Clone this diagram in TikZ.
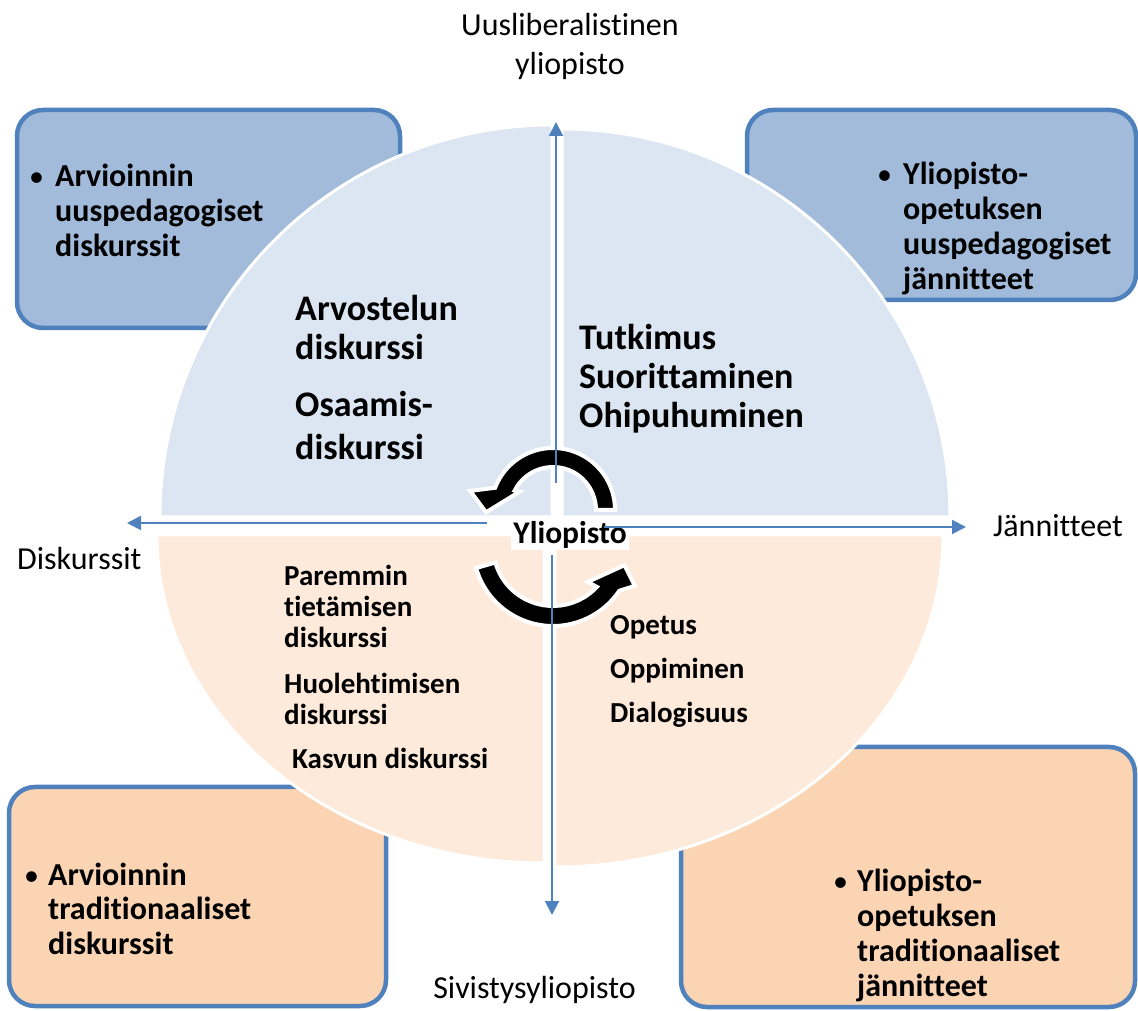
\documentclass[tikz,border=0pt]{standalone}
\usepackage{fontspec}
\setmainfont{Carlito}[Ligatures={NoCommon,NoContextual}]
\usetikzlibrary{arrows.meta}
\definecolor{topq}{HTML}{DCE6F2}
\definecolor{botq}{HTML}{FDEADA}
\definecolor{topbox}{HTML}{A2BBDA}
\definecolor{botbox}{HTML}{FBD4B4}
\definecolor{edgeblue}{HTML}{4F81BD}
\newcommand{\bul}[1]{\makebox[#1][l]{\mdseries\fontsize{30}{35}\selectfont •}}
\begin{document}
\begin{tikzpicture}[x=1pt,y=1pt,
  cbox/.style={draw=edgeblue, line width=4.5pt, rounded corners=26pt},
  quad/.style={draw=white, line width=3pt},
  carrow/.style={fill=black, draw=white, line width=4pt, line join=miter},
  axis/.style={draw=edgeblue, line width=2pt, -{Triangle[length=14pt,width=14pt]}},
  txt/.style={inner sep=0pt, anchor=base west},
  lblreg/.style={inner sep=0pt, font=\fontsize{32}{39}\selectfont},
  qbig/.style={txt, font=\bfseries\fontsize{36}{39}\selectfont},
  qbigb/.style={txt, font=\bfseries\fontsize{36}{43}\selectfont},
  qsmall/.style={txt, font=\bfseries\fontsize{29}{31}\selectfont},
  qsmallb/.style={txt, font=\bfseries\fontsize{29}{44}\selectfont},
  boxtxt/.style={txt, font=\bfseries\fontsize{32}{35}\selectfont}]
\useasboundingbox (0,0) rectangle (1138,1010);

% corner boxes
\path[cbox, fill=topbox] (17,682) rectangle (400,900);
\path[cbox, fill=topbox] (747,710) rectangle (1136,900);
\path[cbox, fill=botbox] (9,4) rectangle (386,223);
\path[cbox, fill=botbox] (681,3) rectangle (1135,263);

% quadrants
\path[quad, fill=topq] (552,493) -- (160,493) arc[start angle=180, end angle=90, radius=392] -- cycle;
\path[quad, fill=topq] (562,493) -- (562,881) arc[start angle=90, end angle=0, radius=388] -- cycle;
\path[quad, fill=botq] (544,475) -- (157,475) arc[start angle=180, end angle=270, x radius=387, y radius=328] -- cycle;
\path[quad, fill=botq] (555,475) -- (555,143) arc[start angle=270, end angle=360, x radius=388, y radius=332] -- cycle;

% circular arrows
\begin{scope}[shift={(553,500)}]
\path[carrow] (0:62) arc[start angle=0, end angle=159, radius=62] -- (167:85) -- (182:67) -- (151:38) -- (153:43) arc[start angle=153, end angle=0, radius=43] -- cycle;
\end{scope}
\begin{scope}[shift={(553,464)}]
\path[carrow] (196:80) arc[start angle=196, end angle=326, radius=80] -- (334:91) -- (345:74) -- (314:50) -- (317:60) arc[start angle=317, end angle=196, radius=60] -- cycle;
\end{scope}

% centre
\node[inner xsep=2pt, inner ysep=1pt, fill=white, font=\bfseries\fontsize{31.5}{36}\selectfont, anchor=base] (yl) at (570,466) {Yliopisto};

% axes
\coordinate (vtopS) at (556,527);
\coordinate (vtopE) at (556,888);
\coordinate (vbotS) at (552,455);
\coordinate (vbotE) at (552,95);
\coordinate (hlS) at (487,487);
\coordinate (hlE) at (127,487);
\coordinate (hrS) at (604,483);
\coordinate (hrE) at (966,483);
\draw[axis] (vtopS) -- (vtopE);
\draw[axis] (vbotS) -- (vbotE);
\draw[axis] (hlS) -- (hlE);
\draw[axis] (hrS) -- (hrE);

% axis labels
\node[lblreg, anchor=base] (ltop) at (570,974) {\begin{tabular}[t]{@{}c@{}}Uusliberalistinen\\yliopisto\end{tabular}};
\node[lblreg, anchor=base west] (lleft) at (17,440) {Diskurssit};
\node[lblreg, anchor=base west] (lright) at (993,473) {Jännitteet};
\node[lblreg, anchor=base] (lbot) at (534.5,12) {Sivistysyliopisto};

% quadrant texts
\node[qbig] (tla) at (295,689) {\begin{tabular}[t]{@{}l@{}}Arvostelun\\diskurssi\end{tabular}};
\node[qbigb] (tlb) at (295,593.3) {\begin{tabular}[t]{@{}l@{}}Osaamis-\\diskurssi\end{tabular}};
\node[qbig] (tra) at (579,660) {\begin{tabular}[t]{@{}l@{}}Tutkimus\\Suorittaminen\\Ohipuhuminen\end{tabular}};
\node[qsmall] (bla) at (284,424.3) {\begin{tabular}[t]{@{}l@{}}Paremmin\\tietämisen\\diskurssi\end{tabular}};
\node[qsmall] (blb) at (284,316) {\begin{tabular}[t]{@{}l@{}}Huolehtimisen\\diskurssi\end{tabular}};
\node[qsmall] (blc) at (292,241.7) {Kasvun diskurssi};
\node[qsmallb] (bra) at (610,375) {\begin{tabular}[t]{@{}l@{}}Opetus\\Oppiminen\\Dialogisuus\end{tabular}};

% box texts
\node[boxtxt] (btl) at (29,823) {\begin{tabular}[t]{@{}l@{}l@{}}\bul{26pt}&Arvioinnin\\&uuspedagogiset\\&diskurssit\end{tabular}};
\node[boxtxt] (btr) at (877,825) {\begin{tabular}[t]{@{}l@{}l@{}}\bul{26pt}&Yliopisto-\\&opetuksen\\&uuspedagogiset\\&jännitteet\end{tabular}};
\node[boxtxt] (bbl) at (24,125) {\begin{tabular}[t]{@{}l@{}l@{}}\bul{24pt}&Arvioinnin\\&traditionaaliset\\&diskurssit\end{tabular}};
\node[boxtxt] (bbr) at (833,118.3) {\begin{tabular}[t]{@{}l@{}l@{}}\bul{24pt}&Yliopisto-\\&opetuksen\\&traditionaaliset\\&jännitteet\end{tabular}};
\end{tikzpicture}
\end{document}
